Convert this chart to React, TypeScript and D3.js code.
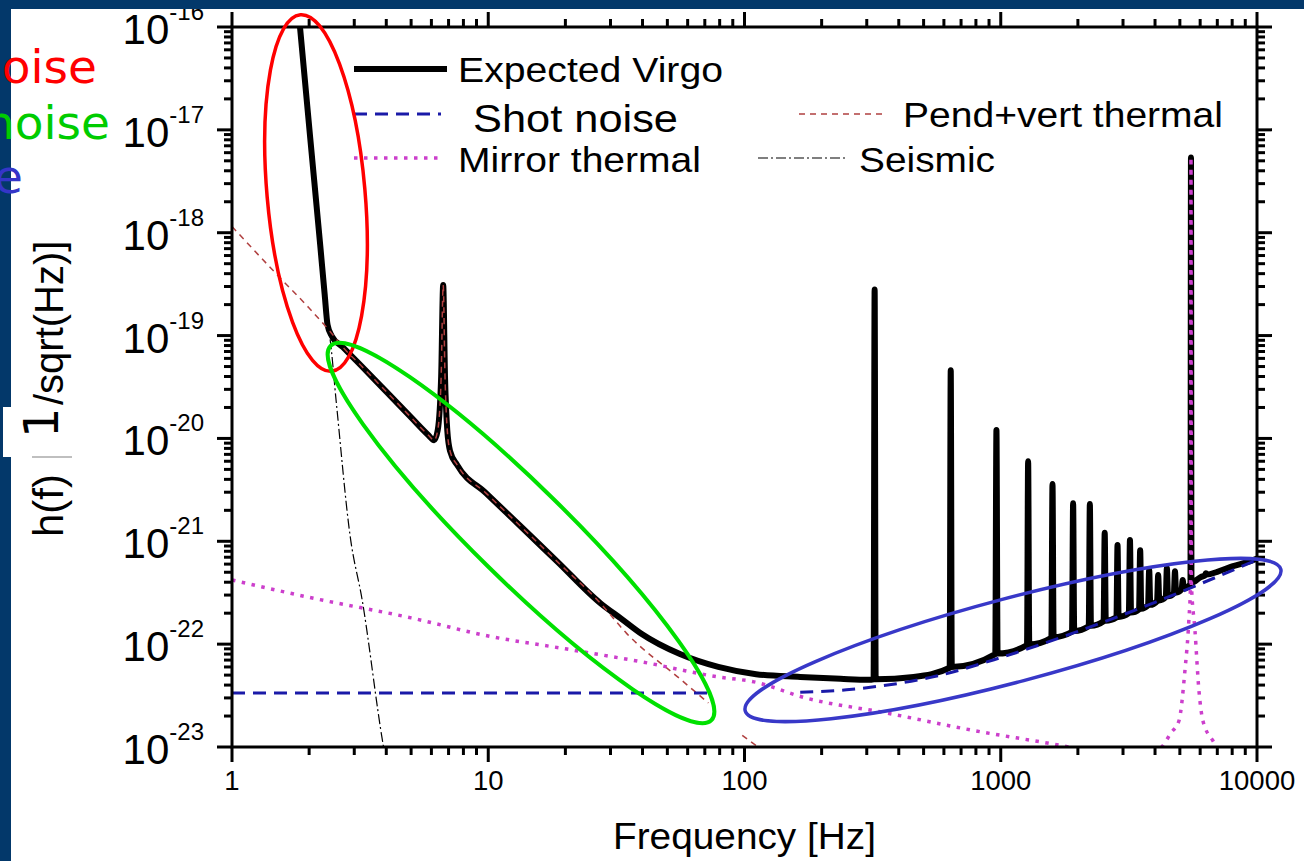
import React from 'react';
import * as d3 from 'd3';

type Pt = [number, number];

// [frequency Hz, h(f) 1/sqrt(Hz)]
const expectedVirgo: Pt[] = [
  [1.80, 1.87e-16], [2.02, 8.3e-18], [2.21, 7.5e-19], [2.30, 2.5e-19], [2.36, 1.27e-19],
  [2.45, 9.9e-20], [2.71, 7.7e-20], [3.2, 5.06e-20], [4.0, 2.85e-20], [5.0, 1.6e-20],
  [5.83, 1.08e-20], [6.15, 9.6e-21], [6.35, 1.2e-20], [6.55, 4.0e-20], [6.67, 3.1e-19],
  [6.78, 4.0e-20], [6.92, 1.2e-20], [7.1, 7.5e-21], [7.57, 5.5e-21], [9.8, 2.94e-21],
  [13.5, 1.37e-21], [18.6, 6.34e-22], [27.4, 2.5e-22], [33, 1.77e-22], [39.6, 1.26e-22],
  [56, 8.0e-23], [79, 6.0e-23], [111, 5.1e-23], [165, 4.8e-23], [237, 4.6e-23], [305, 4.5e-23],
  [319, 4.55e-23], [322, 2.8e-19], [325, 4.55e-23],
  [457, 4.8e-23],
  [632, 5.9e-23], [638, 4.6e-20], [644, 6.0e-23],
  [952, 8.0e-23], [962, 1.21e-20], [972, 8.1e-23],
  [1266, 9.8e-23], [1279, 6.0e-21], [1292, 9.9e-23],
  [1576, 1.15e-22], [1592, 3.6e-21], [1608, 1.17e-22],
  [1897, 1.32e-22], [1916, 2.34e-21], [1935, 1.34e-22],
  [2205, 1.49e-22], [2227, 2.3e-21], [2249, 1.51e-22],
  [2520, 1.67e-22], [2545, 1.21e-21], [2570, 1.69e-22],
  [2828, 1.82e-22], [2856, 9.2e-22], [2884, 1.84e-22],
  [3161, 2.0e-22], [3193, 1.03e-21], [3225, 2.03e-22],
  [3465, 2.18e-22], [3500, 8.2e-22], [3535, 2.21e-22],
  [3757, 2.38e-22], [3795, 5.3e-22], [3833, 2.41e-22],
  [4074, 2.62e-22], [4115, 4.7e-22], [4156, 2.66e-22],
  [4405, 2.87e-22], [4450, 5.5e-22], [4495, 2.92e-22],
  [4737, 3.12e-22], [4785, 5.1e-22], [4833, 3.18e-22],
  [5079, 3.42e-22], [5130, 4.2e-22], [5181, 3.48e-22],
  [5500, 3.85e-22], [5525, 5.4e-18], [5550, 3.95e-22],
  [6040, 4.5e-22],
  [6257, 4.65e-22], [6320, 4.9e-22], [6383, 4.75e-22],
  [7000, 5.05e-22], [8000, 5.7e-22], [9730, 6.6e-22], [10000, 6.8e-22],
];

const shotNoiseLow: Pt[] = [[1, 3.35e-23], [73, 3.35e-23]];
const shotNoiseHigh: Pt[] = [
  [165, 3.4e-23], [250, 3.6e-23], [340, 3.92e-23], [533, 4.75e-23], [1000, 7.4e-23],
  [2000, 1.33e-22], [4000, 2.55e-22], [6000, 3.85e-22], [10000, 6.6e-22],
];

const mirrorThermal: Pt[] = [
  [1, 4.2e-22], [2, 2.85e-22], [5, 1.8e-22], [10, 1.2e-22], [20, 9.0e-23], [40, 6.7e-23],
  [79, 4.8e-23], [109, 4.3e-23], [173, 3.0e-23], [359, 2.14e-23], [769, 1.46e-23],
  [1845, 1.0e-23], [3000, 7.8e-24], [3800, 8.5e-24], [4250, 1.0e-23], [4615, 1.37e-23],
  [4960, 1.8e-23], [5235, 5.6e-23], [5420, 1.7e-22], [5505, 4.0e-22], [5525, 5.4e-18],
  [5545, 4.0e-22], [5726, 1.37e-22], [5932, 3.6e-23], [6150, 1.8e-23], [6730, 1.15e-23],
  [8000, 7.0e-24],
];

const pendVertThermal: Pt[] = [
  [1, 1.15e-18], [1.5, 3.9e-19], [2, 1.85e-19], [2.41, 1.1e-19], [2.71, 7.7e-20],
  [3.2, 5.06e-20], [4.0, 2.85e-20], [5.0, 1.6e-20], [5.83, 1.08e-20], [6.15, 9.6e-21],
  [6.35, 1.2e-20], [6.55, 4.0e-20], [6.67, 3.1e-19], [6.78, 4.0e-20], [6.92, 1.2e-20],
  [7.1, 7.5e-21], [7.57, 5.5e-21], [9.8, 2.94e-21], [13.5, 1.37e-21], [18.6, 6.34e-22],
  [27.4, 2.5e-22], [34.6, 1.28e-22], [56, 4.6e-23], [72.3, 2.68e-23],
];
const pendVertThermalTail: Pt[] = [[98, 1.3e-23], [116, 9.5e-24]];

const seismic: Pt[] = [
  [1.8, 1.87e-16], [2.02, 8.3e-18], [2.21, 7.5e-19], [2.36, 1.27e-19], [2.41, 9.5e-20],
  [2.55, 2.3e-20], [2.89, 1.13e-21], [3.22, 2.7e-22], [3.89, 1.05e-23], [4.05, 6e-24],
];

const xTickLabels = ['1', '10', '100', '1000', '10000'];
const yExponents = [-16, -17, -18, -19, -20, -21, -22, -23];
const sideNotes = ['Seismic noise', 'Thermal noise', 'Shot noise'];

const FONT = 'Liberation Sans, Arial, sans-serif';
const NAVY = '#03386a';

const isMajor = (v: number) => Math.abs(Math.log10(v) - Math.round(Math.log10(v))) < 1e-6;

export default function App() {
  const x = d3.scaleLog().domain([1, 10000]).range([232, 1257]);
  const y = d3.scaleLog().domain([1e-23, 1e-16]).range([747, 27]);
  const line = d3.line<Pt>().x(d => x(d[0])).y(d => y(d[1])).curve(d3.curveMonotoneX);

  const xt = x.ticks();
  const yt = y.ticks();

  const tickLen = (v: number) => (isMajor(v) ? 15 : 8);

  return (
    <svg width={1304} height={861} style={{ position: 'absolute', left: 0, top: 0, display: 'block' }}>
      <defs>
        <clipPath id="plot">
          <rect x={232} y={27} width={1025} height={720} />
        </clipPath>
      </defs>
      <rect width={1304} height={861} fill="#fff" />

      <g clipPath="url(#plot)" fill="none">
        <path d={line(expectedVirgo)!} stroke="#000" strokeWidth={6} strokeLinejoin="round" />
        <path d={line(pendVertThermal)!} stroke="#b04040" strokeWidth={1.5} strokeDasharray="6 5" />
        <path d={line(pendVertThermalTail)!} stroke="#b04040" strokeWidth={1.5} strokeDasharray="6 5" />
        <path d={line(shotNoiseLow)!} stroke="#1a1aa8" strokeWidth={3} strokeDasharray="13 8" />
        <path d={line(shotNoiseHigh)!} stroke="#1a1aa8" strokeWidth={3} strokeDasharray="13 8" />
        <path d={line(mirrorThermal)!} stroke="#cc3fcc" strokeWidth={3.5} strokeDasharray="3.5 6.5" />
        <path d={line(seismic)!} stroke="#000" strokeWidth={1.2} strokeDasharray="10 3 2 3" />
      </g>

      {/* frame and ticks */}
      <g stroke="#000" strokeWidth={3}>
        <rect x={232} y={27} width={1025} height={720} fill="none" />
        {xt.map((v, i) => (
          <g key={'x' + i}>
            <line x1={x(v)} x2={x(v)} y1={747} y2={747 + tickLen(v)} />
            <line x1={x(v)} x2={x(v)} y1={27} y2={27 - tickLen(v)} />
          </g>
        ))}
        {yt.map((v, i) => (
          <g key={'y' + i}>
            <line x1={232} x2={232 - tickLen(v)} y1={y(v)} y2={y(v)} />
            <line x1={1257} x2={1257 + tickLen(v)} y1={y(v)} y2={y(v)} />
          </g>
        ))}
      </g>

      <g fontFamily={FONT} fill="#000">
        {xTickLabels.map(t => (
          <text key={t} x={x(+t)} y={790} fontSize={27.5} textAnchor="middle">{t}</text>
        ))}
        {yExponents.map(e => (
          <text key={e} x={204} y={y(Math.pow(10, e)) + 17} fontSize={42} textAnchor="end">
            10<tspan fontSize={24} dy={-24}>{String(e)}</tspan>
          </text>
        ))}
        <text x={744.5} y={849} fontSize={37} textAnchor="middle" textLength={263} lengthAdjust="spacingAndGlyphs">
          Frequency [Hz]
        </text>
      </g>

      {/* legend */}
      <g fontFamily={FONT} fill="#000">
        <line x1={354} x2={447} y1={69} y2={69} stroke="#000" strokeWidth={6} />
        <text x={458} y={82} fontSize={35} textLength={265} lengthAdjust="spacingAndGlyphs">Expected Virgo</text>
        <line x1={354} x2={441} y1={114} y2={114} stroke="#1a1aa8" strokeWidth={3} strokeDasharray="13 8" />
        <text x={473} y={132} fontSize={38} textLength={205} lengthAdjust="spacingAndGlyphs">Shot noise</text>
        <line x1={799} x2={882} y1={114} y2={114} stroke="#b04040" strokeWidth={1.5} strokeDasharray="6 5" />
        <text x={903} y={127} fontSize={35} textLength={320} lengthAdjust="spacingAndGlyphs">Pend+vert thermal</text>
        <line x1={354} x2={438} y1={158} y2={158} stroke="#cc3fcc" strokeWidth={3.5} strokeDasharray="3.5 6.5" />
        <text x={458} y={172} fontSize={35} textLength={243} lengthAdjust="spacingAndGlyphs">Mirror thermal</text>
        <line x1={758} x2={848} y1={158} y2={158} stroke="#000" strokeWidth={1.2} strokeDasharray="10 3 2 3" />
        <text x={859} y={172} fontSize={35} textLength={136} lengthAdjust="spacingAndGlyphs">Seismic</text>
      </g>

      {/* annotation ellipses */}
      <g fill="none">
        <ellipse transform="translate(316,193) rotate(-5)" rx={49} ry={179} stroke="#ff0000" strokeWidth={3.5} />
        <ellipse transform="translate(521,533) rotate(44.5)" rx={267} ry={47} stroke="#00e000" strokeWidth={4} />
        <ellipse transform="translate(1013,640) rotate(-14.8)" rx={277} ry={42} stroke="#3838c8" strokeWidth={3.5} />
      </g>

      {/* slide frame */}
      <rect x={0} y={0} width={1304} height={9} fill={NAVY} />
      <rect x={0} y={0} width={11} height={861} fill={NAVY} />

      {/* y axis title */}
      <rect x={3} y={407} width={70} height={50} fill="#fff" />
      <line x1={32} x2={72} y1={457} y2={457} stroke="#aaa" strokeWidth={1.5} />
      <g transform="translate(63,537) rotate(-90)" fill="#000">
        <text x={0} y={0} fontSize={42} fontFamily={FONT}>h(f)</text>
        <text x={99} y={-5} fontSize={48} fontFamily="DejaVu Sans">1</text>
        <text x={132} y={0} fontSize={40} fontFamily={FONT}>/sqrt(Hz)]</text>
      </g>

      {/* clipped slide notes */}
      <g fontFamily="DejaVu Sans" fontSize={47} textAnchor="end">
        <text x={97} y={83} fill="#ff0000">{sideNotes[0]}</text>
        <text x={110} y={139} fill="#00cc00">{sideNotes[1]}</text>
        <text x={23} y={193} fill="#3535c8">{sideNotes[2]}</text>
      </g>
    </svg>
  );
}
